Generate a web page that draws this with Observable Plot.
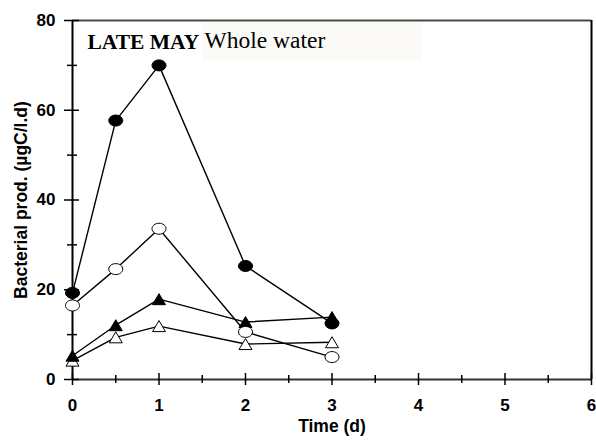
<!DOCTYPE html>
<html>
<head>
<meta charset="utf-8">
<script src="https://cdn.jsdelivr.net/npm/d3@7"></script>
<script src="https://cdn.jsdelivr.net/npm/@observablehq/plot@0.6"></script>
<style>
  html, body { margin: 0; padding: 0; background: #fff; }
  #chart svg { display: block; }
</style>
</head>
<body>
<div id="chart"></div>
<script>
// ---- data ----
const times = [0, 0.5, 1, 2, 3];
const filledCircle   = [19.3, 57.7, 70.0, 25.3, 12.5];
const openCircle     = [16.5, 24.6, 33.6, 10.6, 5.0];
const filledTriangle = [5.3, 12.1, 17.9, 12.8, 13.9];
const openTriangle   = [4.2, 9.4, 11.9, 7.9, 8.3];

const xMajor = [0, 1, 2, 3, 4, 5, 6];
const xMinor = [0.5, 1.5, 2.5, 3.5, 4.5, 5.5];
const yMajor = [0, 20, 40, 60, 80];
const yMinor = [10, 30, 50, 70];

const titleBold = "LATE MAY";
const titleText = "Whole water";
const xLabel = "Time (d)";
const yLabel = "Bacterial prod. (µgC/l.d)";

// ---- custom marker shapes ----
const ellipse = {
  draw(ctx) {
    const rx = 7, ry = 5.5, k = 0.5523;
    ctx.moveTo(rx, 0);
    ctx.bezierCurveTo(rx, ry * k, rx * k, ry, 0, ry);
    ctx.bezierCurveTo(-rx * k, ry, -rx, ry * k, -rx, 0);
    ctx.bezierCurveTo(-rx, -ry * k, -rx * k, -ry, 0, -ry);
    ctx.bezierCurveTo(rx * k, -ry, rx, -ry * k, rx, 0);
    ctx.closePath();
  }
};
const triangle = {
  draw(ctx) {
    const w = 13, h = 11;
    ctx.moveTo(0, -h / 2);
    ctx.lineTo(w / 2, h / 2);
    ctx.lineTo(-w / 2, h / 2);
    ctx.closePath();
  }
};

const seriesDefs = [
  {name: "openTriangle", values: openTriangle, symbol: triangle, fill: "white"},
  {name: "filledTriangle", values: filledTriangle, symbol: triangle, fill: "black"},
  {name: "openCircle", values: openCircle, symbol: ellipse, fill: "white"},
  {name: "filledCircle", values: filledCircle, symbol: ellipse, fill: "black"}
];
const rows = seriesDefs.flatMap(s => times.map((t, i) => ({series: s.name, t, v: s.values[i]})));

const font = "'Liberation Sans', Arial, Helvetica, sans-serif";
const serif = "'Liberation Serif', 'Times New Roman', serif";

const box = (index, scales, values, dims) => {
  const r = document.createElementNS("http://www.w3.org/2000/svg", "rect");
  r.setAttribute("x", dims.marginLeft + 130);
  r.setAttribute("y", dims.marginTop + 2);
  r.setAttribute("width", 220);
  r.setAttribute("height", 38);
  r.setAttribute("fill", "#fbfaf7");
  return r;
};

const chart = Plot.plot({
  width: 596,
  height: 440,
  marginLeft: 72,
  marginRight: 5,
  marginTop: 20,
  marginBottom: 61,
  style: {fontFamily: font, fontSize: "17px", fontWeight: "bold", color: "black", background: "white", overflow: "visible"},
  x: {domain: [0, 6], axis: null},
  y: {domain: [0, 80], axis: null},
  marks: [
    box,
    // frame
    Plot.ruleY([80], {stroke: "#4a4a4a", strokeWidth: 2}),
    Plot.ruleX([6], {stroke: "black", strokeWidth: 2}),
    Plot.ruleX([0], {stroke: "black", strokeWidth: 2}),
    Plot.ruleY([0], {stroke: "#333", strokeWidth: 2}),
    // y ticks crossing the axis
    Plot.axisY(yMajor, {tickSize: 15, dx: 7, tickFormat: () => "", label: null, strokeWidth: 1.5}),
    Plot.axisY(yMinor, {tickSize: 10, dx: 5, tickFormat: () => "", label: null, strokeWidth: 1.5}),
    Plot.axisY(yMajor, {tickSize: 0, tickPadding: 17, fontSize: 17, fontWeight: "bold", label: null}),
    // x ticks crossing the axis
    Plot.axisX(xMajor, {tickSize: 12, dy: -6, tickFormat: () => "", label: null, strokeWidth: 1.5}),
    Plot.axisX(xMinor, {tickSize: 8, dy: -4, tickFormat: () => "", label: null, strokeWidth: 1.5}),
    Plot.axisX(xMajor, {tickSize: 0, tickPadding: 19, fontSize: 17, fontWeight: "bold", label: null}),
    // axis titles
    Plot.text([yLabel], {frameAnchor: "left", dx: -51, rotate: -90, lineAnchor: "middle", textAnchor: "middle",
      fontSize: 17.5, fontWeight: "bold", fill: "black"}),
    Plot.text([xLabel], {frameAnchor: "bottom", dy: 52, lineAnchor: "bottom", textAnchor: "middle",
      fontSize: 17.5, fontWeight: "bold", fill: "black"}),
    // lines
    Plot.line(rows, {x: "t", y: "v", z: "series", stroke: "black", strokeWidth: 1.4}),
    // markers
    ...seriesDefs.map(s => Plot.dot(rows.filter(d => d.series === s.name), {
      x: "t", y: "v", symbol: s.symbol, fill: s.fill, stroke: "black", strokeWidth: 1
    })),
    // title
    Plot.text([titleBold], {frameAnchor: "top-left", dx: 15, dy: 28, lineAnchor: "bottom", textAnchor: "start",
      fontFamily: serif, fontWeight: "bold", fontSize: 21.5, fill: "black"}),
    Plot.text([titleText], {frameAnchor: "top-left", dx: 132, dy: 27, lineAnchor: "bottom", textAnchor: "start",
      fontFamily: serif, fontWeight: "normal", fontSize: 23.5, fill: "black"})
  ]
});
document.getElementById("chart").appendChild(chart);
</script>
</body>
</html>
